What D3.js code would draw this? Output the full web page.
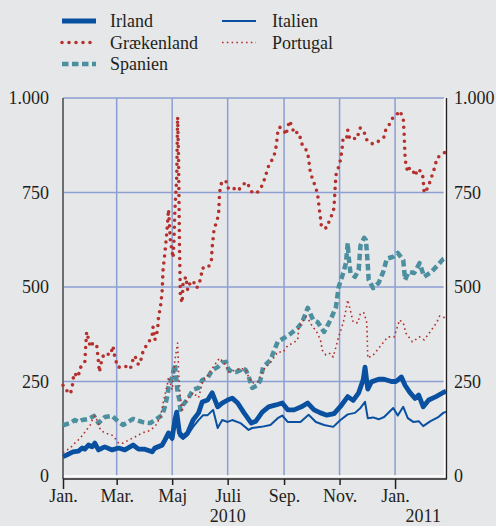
<!DOCTYPE html>
<html>
<head>
<meta charset="utf-8">
<script src="https://cdn.jsdelivr.net/npm/d3@7"></script>
<style>
  body { margin: 0; background: #e6e7e9; }
  svg { display: block; }
  svg text { font-family: "Liberation Serif", "Times New Roman", "DejaVu Serif", serif !important; fill: #231f20; }
</style>
</head>
<body>
<script>
// data, [days since 1 Jan 2010, value]
var irland = [[0,52],[2,53],[6,58],[11,64],[17,66],[21,74],[24,71],[28,82],[32,77],[35,87],[39,69],[43,74],[46,77],[54,69],[61,74],[68,69],[77,82],[83,71],[90,71],[98,64],[101,74],[109,82],[112,95],[116,114],[120,100],[123,148],[125,169],[128,114],[132,103],[137,114],[143,148],[149,167],[153,196],[159,201],[164,220],[170,183],[175,193],[181,201],[186,206],[192,193],[199,167],[207,140],[212,145],[219,169],[226,183],[234,188],[241,193],[247,175],[254,175],[262,183],[269,193],[276,175],[283,167],[290,161],[298,165],[305,184],[313,210],[319,200],[325,220],[330,255],[332,288],[335,230],[339,249],[347,256],[353,256],[361,250],[366,250],[372,262],[376,240],[381,222],[387,205],[391,214],[396,183],[402,201],[410,210],[418,221],[421,224]];

var italien = [[0,52],[2,55],[6,57],[11,62],[17,65],[21,72],[24,70],[28,80],[32,75],[35,85],[39,68],[43,72],[46,75],[54,67],[61,72],[68,67],[77,78],[83,69],[90,68],[98,62],[101,70],[109,78],[112,90],[116,105],[120,95],[123,135],[125,150],[128,105],[132,98],[137,108],[143,130],[149,148],[154,161],[159,161],[165,175],[170,127],[175,148],[181,143],[186,148],[195,140],[204,122],[208,127],[218,130],[228,135],[236,153],[241,160],[247,143],[255,143],[261,143],[270,162],[278,143],[287,135],[297,130],[305,148],[313,163],[321,167],[327,180],[332,196],[335,153],[341,155],[347,150],[353,156],[363,180],[368,160],[374,183],[379,153],[385,143],[391,145],[396,132],[404,145],[412,155],[418,167],[421,170]];

var graekenland = [[0,240],[1,233],[8,217],[10,233],[12,272],[17,262],[18,283],[24,302],[25,344],[26,381],[28,362],[30,341],[33,352],[37,347],[39,302],[40,275],[43,312],[46,325],[52,320],[55,344],[56,325],[60,288],[65,288],[68,291],[74,283],[76,302],[79,318],[83,294],[87,315],[88,333],[94,352],[98,373],[99,394],[101,360],[104,386],[105,421],[107,445],[108,466],[109,490],[110,545],[112,590],[114,640],[116,705],[118,624],[121,577],[122,624],[123,704],[125,790],[126,950],[127,844],[128,620],[129,474],[131,458],[132,511],[135,527],[137,492],[140,513],[143,516],[147,497],[150,511],[152,532],[153,550],[159,550],[163,566],[164,606],[166,651],[168,667],[171,690],[172,744],[173,765],[175,781],[180,778],[182,759],[187,762],[192,754],[196,765],[201,778],[205,765],[208,749],[213,749],[217,759],[220,775],[223,796],[225,815],[228,828],[232,847],[234,868],[235,886],[236,908],[238,923],[243,915],[245,902],[247,921],[249,940],[252,923],[254,905],[258,910],[261,894],[263,876],[268,860],[270,841],[271,818],[272,802],[275,781],[278,762],[280,743],[281,722],[282,701],[283,683],[284,661],[287,654],[291,659],[293,680],[297,696],[298,714],[299,757],[300,796],[303,818],[305,836],[307,870],[308,897],[312,897],[313,915],[315,894],[319,889],[321,894],[324,894],[325,915],[327,921],[332,905],[334,889],[337,881],[342,878],[347,886],[353,897],[355,918],[359,931],[363,950],[366,953],[370,966],[374,947],[375,905],[376,844],[377,823],[379,804],[381,815],[384,812],[387,794],[390,812],[395,802],[396,781],[397,749],[401,762],[404,783],[407,804],[409,820],[411,841],[417,852],[421,858]];

var portugal = [[0,62],[1,64],[8,74],[13,87],[19,100],[24,116],[30,135],[33,153],[35,159],[39,140],[41,122],[46,114],[54,108],[57,100],[61,87],[66,87],[72,95],[79,103],[87,114],[94,119],[101,130],[107,156],[110,193],[115,246],[116,262],[120,228],[123,307],[126,352],[127,280],[129,200],[131,169],[132,188],[138,207],[143,220],[149,207],[154,254],[160,267],[165,288],[172,312],[179,294],[182,275],[190,280],[195,286],[201,280],[204,262],[208,246],[214,249],[220,280],[228,300],[236,328],[242,328],[247,345],[253,352],[258,360],[259,394],[267,421],[270,413],[275,392],[278,386],[283,360],[285,333],[289,320],[294,325],[297,315],[300,341],[303,368],[308,405],[311,439],[313,466],[319,407],[324,405],[327,431],[331,431],[334,405],[335,312],[341,320],[350,347],[357,368],[364,368],[370,413],[374,405],[377,378],[384,355],[392,368],[397,360],[405,386],[411,407],[414,423],[421,418]];

var spanien = [[0,133],[1,135],[8,140],[13,148],[17,143],[21,148],[28,151],[34,159],[39,140],[46,156],[54,159],[61,143],[66,135],[77,151],[87,143],[96,140],[101,148],[109,161],[112,183],[115,215],[116,235],[120,262],[123,295],[126,220],[128,201],[129,175],[132,188],[138,207],[143,228],[149,233],[153,254],[159,260],[164,280],[170,288],[175,300],[179,302],[182,282],[186,275],[190,275],[195,280],[197,286],[201,280],[204,264],[208,233],[214,240],[217,254],[220,288],[228,307],[236,355],[243,365],[250,376],[258,392],[263,407],[269,445],[275,413],[280,407],[287,381],[294,413],[300,447],[303,500],[308,537],[311,563],[313,616],[314,580],[316,537],[321,527],[325,545],[327,610],[331,630],[333,624],[335,560],[336,519],[341,497],[347,511],[352,540],[356,575],[363,580],[368,590],[374,571],[376,519],[380,540],[386,537],[392,563],[397,527],[405,540],[412,558],[418,574],[421,578]];

var yTicks = [0, 250, 500, 750, 1000];
var yTickLabels = ["0", "250", "500", "750", "1.000"];
var monthLabels = ["Jan.", "Mar.", "Maj", "Juli", "Sep.", "Nov.", "Jan."];
var yearLabels = [["2010", "2010-07-01"], ["2011", "2011-02-01"]];

var W = 496, H = 526;
var margin = {top: 98, right: 50, bottom: 50, left: 63};
var start = new Date(2010, 0, 1);
var day = function(d) { return d3.timeDay.offset(start, d); };
var serif = "Liberation Serif, Times New Roman, DejaVu Serif, serif";

var x = d3.scaleTime()
    .domain([start, day(421)])
    .range([margin.left, W - margin.right]);
var y = d3.scaleLinear()
    .domain([0, 1000])
    .range([H - margin.bottom, margin.top]);

var svg = d3.select("body").append("svg")
    .attr("width", W)
    .attr("height", H)
    .attr("font-family", serif);

var x0 = x.range()[0], x1 = x.range()[1];
var y0 = y.range()[0], y1 = y.range()[1];
var monthTicks = d3.timeMonth.every(2).range(start, day(422));

// grid
var gridColor = "#8c9fd3";
svg.append("g").selectAll("line")
    .data(monthTicks.slice(1))
  .enter().append("line")
    .attr("x1", function(d) { return x(d); })
    .attr("x2", function(d) { return x(d); })
    .attr("y1", y1).attr("y2", y0)
    .attr("stroke", gridColor).attr("stroke-width", 1.5);
svg.append("g").selectAll("line")
    .data(yTicks.slice(1))
  .enter().append("line")
    .attr("x1", x0).attr("x2", x1 - 2)
    .attr("y1", function(d) { return y(d); })
    .attr("y2", function(d) { return y(d); })
    .attr("stroke", gridColor).attr("stroke-width", 1.5);

// white frame bottom / right
svg.append("path")
    .attr("d", "M" + x0 + "," + y0 + "H" + (x1 - 1.5) + "V" + y1)
    .attr("fill", "none").attr("stroke", "#fff").attr("stroke-width", 1.5);

// axes lines
svg.append("line").attr("x1", x0).attr("x2", x0).attr("y1", y1).attr("y2", y0 + 3)
    .attr("stroke", "#6d6e71").attr("stroke-width", 2);
svg.append("line").attr("x1", x1 + 0.5).attr("x2", x1 + 0.5).attr("y1", y1).attr("y2", y0 + 3)
    .attr("stroke", "#231f20").attr("stroke-width", 1.3);

// bottom axis
var xAxis = svg.append("g")
    .attr("transform", "translate(0," + (y0 + 3) + ")")
    .call(d3.axisBottom(x)
        .tickValues(monthTicks)
        .tickSize(6)
        .tickPadding(4)
        .tickFormat(function(d, i) { return monthLabels[i]; }));
xAxis.attr("font-family", serif).attr("font-size", 18);
xAxis.select(".domain").attr("stroke", "#231f20").attr("stroke-width", 1.3)
    .attr("d", "M" + x0 + ",0H" + (x1 + 1));
xAxis.selectAll(".tick line").attr("stroke", "#231f20").attr("stroke-width", 1.5)
    .attr("y2", function(d) { return d.getMonth() === 0 ? 10 : 6; });
xAxis.selectAll(".tick text").attr("fill", "#231f20");

svg.selectAll(".year")
    .data(yearLabels)
  .enter().append("text")
    .attr("x", function(d) { return x(new Date(d[1])); })
    .attr("y", 522)
    .attr("text-anchor", "middle")
    .attr("font-size", 18)
    .text(function(d) { return d[0]; });

// y labels both sides
svg.selectAll(".yl")
    .data(yTicks)
  .enter().append("text")
    .attr("x", 49)
    .attr("y", function(d) { return y(d) + 6; })
    .attr("text-anchor", "end")
    .attr("font-size", 18)
    .text(function(d, i) { return yTickLabels[i]; });
svg.selectAll(".yr")
    .data(yTicks)
  .enter().append("text")
    .attr("x", 454)
    .attr("y", function(d) { return y(d) + 6; })
    .attr("text-anchor", "start")
    .attr("font-size", 18)
    .text(function(d, i) { return yTickLabels[i]; });

// series
var line = d3.line()
    .x(function(d) { return x(day(d[0])); })
    .y(function(d) { return y(d[1]); });

var blue = "#0a50a1", red = "#b5302d", teal = "#4c8f9f";
var series = [
  {name: "Spanien", data: spanien, color: teal, width: 4.5, dash: "6.5,3.5", cap: "butt"},
  {name: "Grækenland", data: graekenland, color: red, width: 3.6, dash: "0,7", cap: "round"},
  {name: "Portugal", data: portugal, color: red, width: 1.6, dash: "1.6,3.2", cap: "butt"},
  {name: "Italien", data: italien, color: blue, width: 2, dash: null, cap: "butt"},
  {name: "Irland", data: irland, color: blue, width: 4.8, dash: null, cap: "butt"}
];

svg.append("g").selectAll("path")
    .data(series)
  .enter().append("path")
    .attr("d", function(d) { return line(d.data); })
    .attr("fill", "none")
    .attr("stroke", function(d) { return d.color; })
    .attr("stroke-width", function(d) { return d.width; })
    .attr("stroke-dasharray", function(d) { return d.dash; })
    .attr("stroke-linecap", function(d) { return d.cap; })
    .attr("stroke-linejoin", "round");

// legend
var legendItems = [
  {s: series[4], col: 0, row: 0},
  {s: series[1], col: 0, row: 1},
  {s: series[0], col: 0, row: 2},
  {s: series[3], col: 1, row: 0},
  {s: series[2], col: 1, row: 1}
];
var lg = svg.append("g").selectAll("g")
    .data(legendItems)
  .enter().append("g")
    .attr("transform", function(d) { return "translate(" + (d.col ? 222 : 62) + "," + (21 + d.row * 21.5) + ")"; });
lg.append("line")
    .attr("x1", 0).attr("x2", 34)
    .attr("stroke", function(d) { return d.s.color; })
    .attr("stroke-width", function(d) { return d.s.width; })
    .attr("stroke-dasharray", function(d) { return d.s.dash; })
    .attr("stroke-linecap", function(d) { return d.s.cap; });
lg.append("text")
    .attr("x", function(d) { return d.col ? 50 : 48; })
    .attr("y", 6)
    .attr("font-size", 18)
    .text(function(d) { return d.s.name; });
</script>
</body>
</html>
